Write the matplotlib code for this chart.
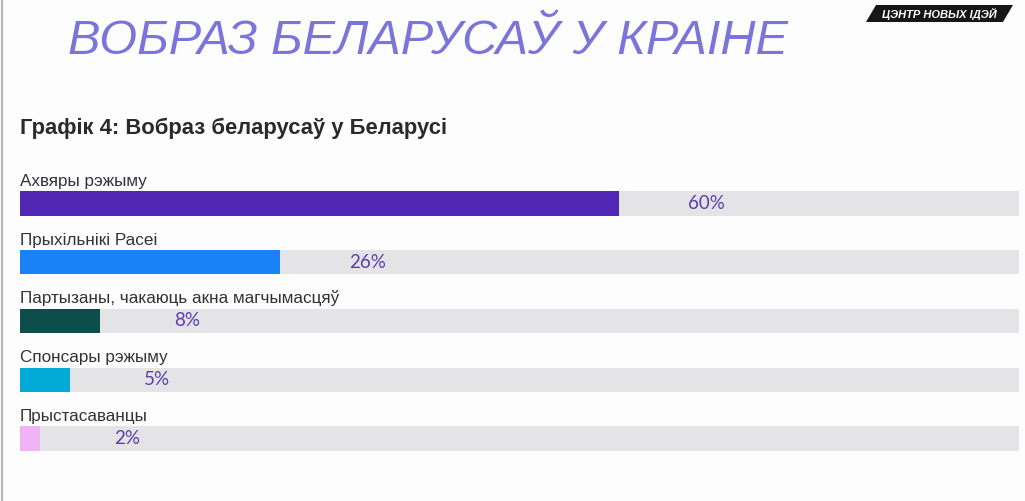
"""Horizontal progress-style bar chart: image of Belarusians in Belarus."""

import matplotlib

matplotlib.use("Agg")
import matplotlib.pyplot as plt
from matplotlib.patches import Polygon

# data
categories = [
    "Ахвяры рэжыму",
    "Прыхільнікі Расеі",
    "Партызаны, чакаюць акна магчымасцяў",
    "Спонсары рэжыму",
    "Прыстасаванцы",
]
values = [60, 26, 8, 5, 2]
bar_colors = ["#5127b5", "#1a82f8", "#0e4e4a", "#02aad8", "#efb3f3"]
slide_title = "ВОБРАЗ БЕЛАРУСАЎ У КРАІНЕ"
chart_title = "Графік 4: Вобраз беларусаў у Беларусі"
logo_text = "ЦЭНТР НОВЫХ ІДЭЙ"

W, H = 1025, 501
fig = plt.figure(figsize=(W / 100, H / 100), dpi=100)
fig.patch.set_facecolor("#fdfdfd")

# slide header
fig.text(68 / W, 1 - 42 / H, slide_title, fontsize=35, style="italic",
         color="#7b74dc", family="Liberation Sans", va="center", ha="left")
fig.text(20 / W, 1 - 128 / H, chart_title, fontsize=15.8, weight="bold",
         color="#2a2a2a", family="Liberation Sans", va="center", ha="left")

# logo badge (parallelogram)
logo = Polygon([(866 / W, 1 - 22 / H), (876 / W, 1 - 5 / H),
                (1013 / W, 1 - 5 / H), (1003 / W, 1 - 22 / H)],
               closed=True, transform=fig.transFigure, facecolor="#161616",
               edgecolor="none")
fig.patches.append(logo)
fig.text(939 / W, 1 - 14 / H, logo_text, fontsize=8, weight="bold",
         style="italic", color="white", family="Liberation Sans",
         ha="center", va="center")

# left border of the screenshot
fig.add_artist(plt.Line2D([2 / W, 2 / W], [0, 1], color="#b8b8b8", lw=1.5))

# bars: axes spans x 20..1019 px, rows every ~58.75 px starting at 203.5 px
ax = fig.add_axes([20 / W, 1 - 497.25 / H, 999 / W, 352.5 / H])
ax.set_xlim(0, 100)
ax.set_ylim(5, -1)
ax.axis("off")

ypos = list(range(len(categories)))
ax.barh(ypos, [100] * len(values), height=0.41, color="#e4e3e6", zorder=1)
ax.barh(ypos, values, height=0.41, color=bar_colors, zorder=2)

for y, cat, v in zip(ypos, categories, values):
    ax.text(0, y - 0.3, cat, fontsize=12.3, color="#333333",
            family="Liberation Sans", ha="left", va="baseline")
    ax.annotate(f"{v}%", xy=(v, y), xytext=(63, 0), textcoords="offset points",
                fontsize=13.5, color="#5a3fae", family="Lato",
                ha="center", va="center", zorder=3)

fig.savefig("out.png", dpi=100, facecolor=fig.get_facecolor())
